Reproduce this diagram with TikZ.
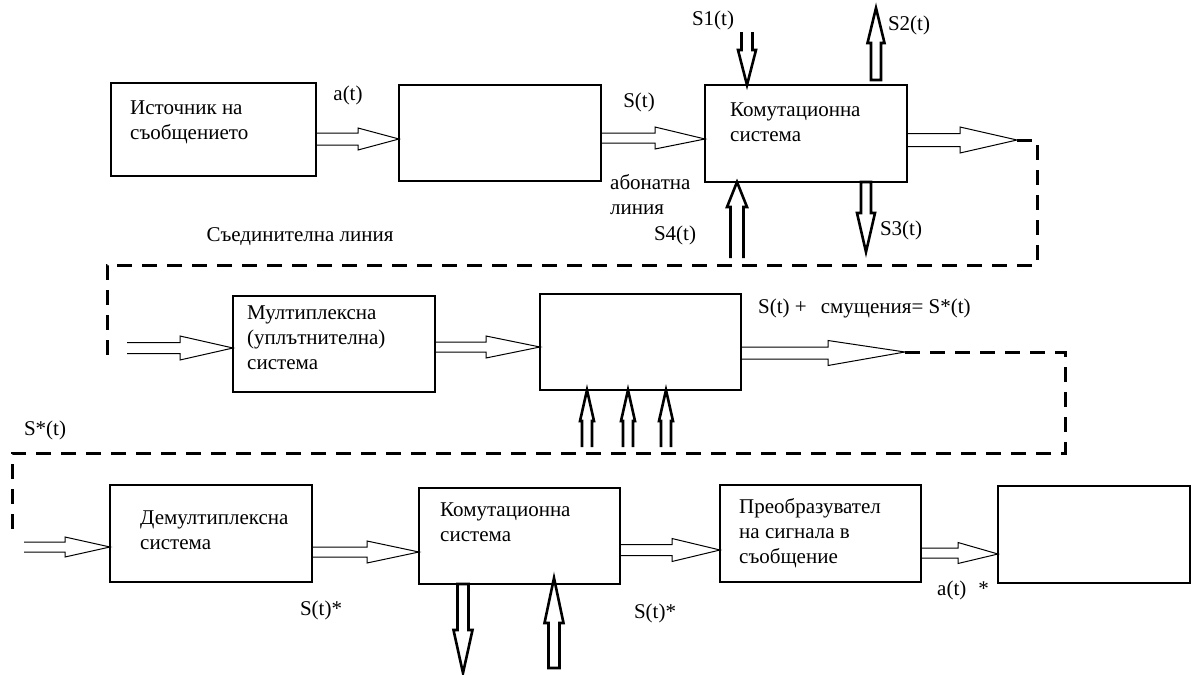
\documentclass[tikz,border=0pt]{standalone}
\usepackage{fontspec}
\setmainfont{Liberation Serif}
\usetikzlibrary{calc}
% horizontal hollow block arrow: [style]{from}{tip}{head length}{shaft half}{head half}
\newcommand\harr[6][]{%
  \draw[blockar,#1] let \p1=(#2),\p2=(#3) in
    (\x1,\y1+#5) -- (\x2-#4,\y1+#5) -- (\x2-#4,\y1+#6) -- (\x2,\y2)
    -- (\x2-#4,\y1-#6) -- (\x2-#4,\y1-#5) -- (\x1,\y1-#5);}
% upward hollow block arrow: {bottom}{tip}{head length}{shaft half}{head half}{close}
\newcommand\uarr[6]{%
  \draw[vblockar] let \p1=(#1),\p2=(#2) in
    (\x1-#4,\y1) -- (\x1-#4,\y2-#3) -- (\x1-#5,\y2-#3) -- (\x2,\y2)
    -- (\x1+#5,\y2-#3) -- (\x1+#4,\y2-#3) -- (\x1+#4,\y1) #6;}
% downward hollow block arrow: {top}{tip}{head length}{shaft half}{head half}{close}
\newcommand\darr[6]{%
  \draw[vblockar] let \p1=(#1),\p2=(#2) in
    (\x1-#4,\y1) -- (\x1-#4,\y2+#3) -- (\x1-#5,\y2+#3) -- (\x2,\y2)
    -- (\x1+#5,\y2+#3) -- (\x1+#4,\y2+#3) -- (\x1+#4,\y1) #6;}
\begin{document}
\begin{tikzpicture}[x=1pt,y=-1pt,
  box/.style={draw, line width=1.1pt, inner sep=0pt, outer sep=0pt},
  txt/.style={font=\fontsize{21}{25}\selectfont, inner sep=0pt, align=left},
  blockar/.style={draw, line width=1pt, line join=miter},
  vblockar/.style={draw, line width=2.6pt, line join=miter},
  link/.style={draw, line width=3pt, dash pattern=on 15pt off 10pt}]
\useasboundingbox (0,0) rectangle (1195,675);
% boxes
\node[box, minimum width=205pt, minimum height=93pt] (b1) at (213.5,129.5) {};
\node[box, minimum width=202pt, minimum height=96pt] (b2) at (500,133) {};
\node[box, minimum width=202pt, minimum height=97pt] (k1) at (806,133.5) {};
\node[box, minimum width=202pt, minimum height=96pt] (mux) at (334,344) {};
\node[box, minimum width=201pt, minimum height=96pt] (b5) at (640.5,342) {};
\node[box, minimum width=202pt, minimum height=97pt] (dmx) at (211,533.5) {};
\node[box, minimum width=201pt, minimum height=96pt] (k2) at (519.5,536) {};
\node[box, minimum width=201pt, minimum height=97pt] (pre) at (820.5,533.5) {};
\node[box, minimum width=192pt, minimum height=97pt] (last) at (1094,534.5) {};
% box texts
\node[txt, anchor=north west] (t1) at (130,97) {\strut Источник на\\съобщението};
\node[txt, anchor=north west] (t2) at (730,99) {\strut Комутационна\\система};
\node[txt, anchor=north west] (t3) at (247,302) {\strut Мултиплексна\\(уплътнителна)\\система};
\node[txt, anchor=north west] (t4) at (140,507) {\strut Демултиплексна\\система};
\node[txt, anchor=north west] (t5) at (440,499) {\strut Комутационна\\система};
\node[txt, anchor=north west] (t6) at (739,496) {\strut Преобразувател\\на сигнала в\\съобщение};
% free ends
\coordinate (tipA) at (1017,140);
\coordinate (tipB) at (905,352);
\coordinate (inA) at (127,348);
\coordinate (inB) at (24,547);
\coordinate (s1top) at (747,32);
\coordinate (s2bot) at (876,80);
\coordinate (s2tip) at (876,8);
\coordinate (s3tip) at (866,252);
\coordinate (s4bot) at (737,258);
\coordinate (m1bot) at (587,447);
\coordinate (m2bot) at (628,447);
\coordinate (m3bot) at (666,447);
\coordinate (k2dtip) at (463,673);
\coordinate (k2ubot) at (554,668);
\coordinate (k2utip) at (554,578);
% horizontal arrows
\harr{b1.east |- 0,139}{b2.west |- 0,139}{41pt}{6pt}{11pt}
\harr{b2.east |- 0,138}{k1.west |- 0,139}{50pt}{5pt}{11pt}
\harr{k1.east |- 0,140}{tipA}{57pt}{6.5pt}{13pt}
\harr{inA}{mux.west |- 0,348}{53pt}{5.5pt}{12pt}
\harr{mux.east |- 0,347}{b5.west |- 0,347}{54pt}{5pt}{11pt}
\harr{b5.east |- 0,353}{tipB}{77pt}{6pt}{12.5pt}
\harr{inB}{dmx.west |- 0,547}{45pt}{5pt}{10pt}
\harr{dmx.east |- 0,552}{k2.west |- 0,552}{52pt}{5pt}{11pt}
\harr{k2.east |- 0,550}{pre.west |- 0,550}{48pt}{5.5pt}{11.5pt}
\harr{pre.east |- 0,553}{last.west |- 0,554}{40pt}{5pt}{10.5pt}
% vertical arrows
\darr{s1top}{747,0 |- k1.north}{35pt}{5.5pt}{9pt}{}
\uarr{s2bot}{s2tip}{35pt}{5pt}{8.5pt}{-- cycle}
\darr{866,0 |- k1.south}{s3tip}{39pt}{5pt}{9pt}{-- cycle}
\uarr{s4bot}{737,0 |- k1.south}{25pt}{6.5pt}{10pt}{}
\uarr{m1bot}{587,0 |- b5.south}{31pt}{5pt}{7pt}{}
\uarr{m2bot}{628,0 |- b5.south}{31pt}{5pt}{7pt}{}
\uarr{m3bot}{666,0 |- b5.south}{31pt}{5pt}{7pt}{}
\darr{463,0 |- k2.south}{k2dtip}{43pt}{5.5pt}{9.5pt}{-- cycle}
\uarr{k2ubot}{k2utip}{45pt}{5.5pt}{9.5pt}{-- cycle}
% dashed links
\draw[link] (tipA) -- (1037,140) -- (1037,265) -- (107,265) -- (107,356);
\draw[link] (tipB) -- (1065,352) -- (1065,453) -- (12,453) -- (12,538);
% labels
\node[txt] (la) at (348,95) {a(t)};
\node[txt] (lS) at (639,102) {S(t)};
\node[txt, anchor=north west] (lab) at (610,172) {\strut абонатна\\линия};
\node[txt] (lS4) at (675,235) {S4(t)};
\node[txt] (lsl) at (300,237) {Съединителна линия};
\node[txt] (lS1) at (713,20) {S1(t)};
\node[txt] (lS2) at (909,25) {S2(t)};
\node[txt] (lS3) at (901,230) {S3(t)};
\node[txt, anchor=west] (lsm) at (758,308) {S(t) +\hspace{14pt}смущения= S*(t)};
\node[txt] (lSs) at (45,430) {S*(t)};
\node[txt] (lSt1) at (321,610) {S(t)*};
\node[txt] (lSt2) at (655,613) {S(t)*};
\node[txt, anchor=west] (lat) at (937,590) {a(t)\hspace{12pt}*};
\end{tikzpicture}
\end{document}
